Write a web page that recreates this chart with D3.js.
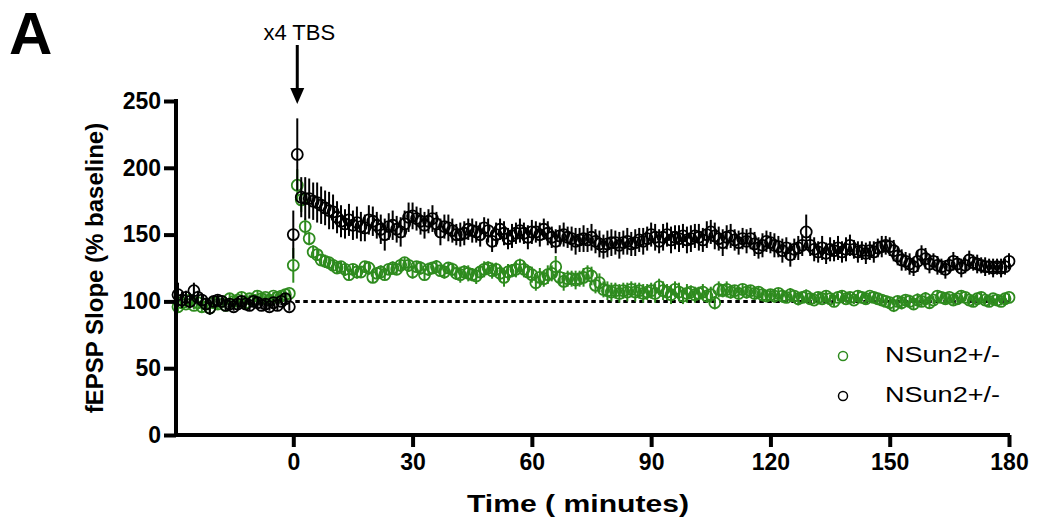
<!DOCTYPE html>
<html>
<head>
<meta charset="utf-8">
<script src="https://cdn.jsdelivr.net/npm/d3@7"></script>
<style>
  html, body { margin: 0; padding: 0; background: #fff; }
  svg { display: block; font-family: "Liberation Sans", Arial, sans-serif; }
</style>
</head>
<body>
<div id="chart"></div>
<script>
// ===== fEPSP slope after x4 TBS =====

// sampling grid: one point per minute, baseline -29..-1, then 0..180
const minutes = d3.range(-29, 181);
const xTicks = [0, 30, 60, 90, 120, 150, 180];
const yTicks = [0, 50, 100, 150, 200, 250];
const seriesNames = ['NSun2+/-', 'NSun2+/-'];

// green group (mean, % baseline)
const greenMean = [
  96, 99, 98, 101, 97, 99, 96, 98, 95, 99, 98, 100, 97, 102, 100, 101, 103, 99, 102, 101,
  104, 102, 103, 101, 104, 103, 104, 105, 106,
  127, 187, 176, 156, 147, 137, 135, 131, 130, 129,
  127, 125, 126, 124, 120, 124, 122, 122, 126, 125,
  118, 121, 122, 120, 124, 125, 124, 127, 129, 127,
  122, 126, 125, 120, 124, 125, 126, 123, 122, 125,
  124, 121, 120, 122, 121, 120, 119, 122, 124, 125,
  123, 124, 121, 118, 122, 123, 124, 127, 124, 122,
  120, 114, 118, 117, 120, 121, 126, 118, 115, 117,
  117, 116, 117, 118, 121, 119, 112, 114, 109, 108,
  107, 108, 106, 108, 107, 109, 107, 108, 106, 107,
  108, 106, 111, 108, 107, 105, 109, 107, 104, 106,
  107, 105, 106, 107, 104, 105, 99, 109, 108, 109,
  107, 108, 106, 109, 107, 108, 106, 107, 105, 104,
  105, 104, 106, 104, 103, 105, 104, 102, 103, 104,
  102, 101, 103, 102, 104, 102, 100, 103, 104, 102,
  103, 101, 104, 103, 102, 104, 103, 102, 101, 100,
  99, 97, 100, 99, 101, 100, 98, 101, 100, 102,
  99, 101, 104, 103, 102, 103, 101, 102, 104, 103,
  101, 100, 102, 103, 101, 100, 102, 101, 100, 102, 103
];
const greenSem = [
  4, 3, 3, 4, 3, 3, 4, 3, 3, 3, 4, 3, 3, 4, 3, 3, 4, 3, 3, 3,
  4, 3, 3, 4, 3, 3, 4, 3, 3,
  13, 12, 9, 6, 5, 5, 4, 4, 5, 4,
  4, 4, 4, 5, 4, 4, 5, 4, 4, 5,
  4, 4, 5, 4, 4, 5, 4, 5, 4, 5,
  5, 4, 5, 4, 5, 4, 5, 4, 5, 4,
  5, 5, 6, 5, 6, 5, 6, 5, 6, 5,
  6, 5, 6, 7, 6, 5, 6, 5, 6, 5,
  6, 6, 7, 6, 7, 6, 8, 6, 7, 6,
  6, 7, 6, 7, 6, 7, 6, 7, 6, 7,
  7, 6, 7, 6, 7, 6, 7, 6, 7, 6,
  6, 7, 6, 7, 6, 7, 6, 7, 6, 7,
  5, 6, 5, 6, 5, 6, 5, 6, 5, 6,
  5, 4, 5, 4, 5, 4, 5, 4, 5, 4,
  4, 5, 4, 5, 4, 5, 4, 5, 4, 5,
  4, 3, 4, 3, 4, 3, 4, 3, 4, 3,
  4, 3, 4, 3, 4, 3, 4, 3, 4, 3,
  4, 5, 4, 5, 4, 5, 4, 5, 4, 5,
  4, 3, 4, 3, 4, 3, 4, 3, 4, 3,
  3, 4, 3, 4, 3, 4, 3, 4, 3, 4, 3
];

// black group (mean, % baseline)
const blackMean = [
  105, 101, 103, 100, 108, 103, 101, 98, 95, 100, 101, 100, 97, 98, 96, 98, 100, 98, 97, 100,
  99, 97, 98, 96, 99, 97, 100, 102, 96,
  150, 210, 178, 177, 177, 175, 174, 172, 170, 168,
  167, 163, 160, 158, 161, 157, 159, 156, 155, 161,
  160, 157, 154, 150, 156, 157, 154, 152, 158, 163,
  164, 162, 160, 157, 160, 162, 158, 152, 156, 155,
  153, 150, 150, 151, 154, 153, 152, 150, 155, 153,
  145, 150, 154, 151, 147, 149, 151, 153, 151, 148,
  152, 152, 150, 154, 151, 148, 145, 149, 150, 148,
  147, 145, 146, 147, 146, 148, 145, 143, 141, 143,
  144, 144, 142, 144, 145, 143, 144, 146, 145, 147,
  150, 148, 145, 148, 150, 146, 148, 147, 149, 146,
  147, 149, 148, 146, 150, 152, 149, 147, 144, 148,
  149, 146, 144, 147, 145, 147, 143, 140, 142, 145,
  144, 142, 141, 138, 140, 135, 139, 140, 142, 152,
  142, 139, 137, 140, 136, 139, 138, 140, 137, 139,
  142, 139, 137, 138, 136, 138, 137, 140, 141, 142,
  141, 138, 134, 131, 130, 128, 126, 130, 135, 132,
  128, 130, 127, 126, 124, 127, 130, 128, 125, 127,
  131, 129, 128, 127, 126, 126, 125, 126, 125, 126, 130
];
const blackSem = [
  9, 6, 5, 5, 6, 5, 4, 4, 5, 4, 4, 3, 4, 4, 3, 4, 4, 3, 4, 3,
  4, 3, 4, 3, 3, 4, 3, 4, 3,
  18, 27, 15, 16, 15, 14, 15, 14, 13, 14,
  13, 12, 12, 11, 12, 11, 12, 11, 10, 11,
  11, 10, 11, 12, 10, 11, 10, 11, 10, 11,
  10, 9, 10, 10, 9, 10, 9, 10, 9, 10,
  9, 8, 9, 9, 8, 9, 8, 9, 8, 9,
  8, 9, 8, 9, 8, 9, 8, 9, 8, 9,
  9, 8, 9, 8, 9, 8, 9, 8, 9, 8,
  9, 10, 9, 10, 9, 10, 9, 10, 9, 10,
  10, 9, 10, 9, 10, 9, 10, 9, 10, 9,
  9, 10, 9, 10, 9, 10, 9, 10, 9, 10,
  10, 9, 10, 9, 10, 9, 10, 9, 10, 9,
  9, 8, 9, 8, 9, 8, 9, 8, 9, 8,
  8, 9, 8, 9, 8, 9, 8, 9, 8, 13,
  8, 9, 8, 9, 8, 9, 8, 9, 8, 9,
  8, 7, 8, 7, 8, 7, 8, 7, 8, 7,
  7, 8, 7, 8, 7, 8, 7, 8, 7, 8,
  7, 6, 7, 6, 7, 6, 7, 6, 7, 6,
  7, 6, 7, 6, 7, 6, 7, 6, 7, 6, 6
];

const tbsTime = 1;
const GREEN = '#2e8b1e';

const width = 1037;
const height = 527;

const svg = d3.select('#chart')
  .append('svg')
  .attr('width', width)
  .attr('height', height);

const x = d3.scaleLinear().domain([-29.5, 180]).range([176, 1009]);
const y = d3.scaleLinear().domain([0, 250]).range([435, 101]);

// build point tables
const toPoints = (mean, sem) => minutes.map((t, i) => ({ t, m: mean[i], e: sem[i] }));
const series = [
  { name: seriesNames[0], color: GREEN, pts: toPoints(greenMean, greenSem) },
  { name: seriesNames[1], color: '#000', pts: toPoints(blackMean, blackSem) }
];

// baseline reference line (100 %)
svg.append('line')
  .attr('x1', x(0) + 2).attr('x2', x(180))
  .attr('y1', y(100)).attr('y2', y(100))
  .attr('stroke', '#000')
  .attr('stroke-width', 3)
  .attr('stroke-dasharray', '4.5,3.5');

// series: error bars first, then open circles
series.forEach(s => {
  const g = svg.append('g');
  g.selectAll('line')
    .data(s.pts)
    .enter().append('line')
    .attr('x1', d => x(d.t)).attr('x2', d => x(d.t))
    .attr('y1', d => y(d.m - d.e)).attr('y2', d => y(d.m + d.e))
    .attr('stroke', s.color)
    .attr('stroke-width', 2);
  g.selectAll('circle')
    .data(s.pts)
    .enter().append('circle')
    .attr('cx', d => x(d.t))
    .attr('cy', d => y(d.m))
    .attr('r', 5.5)
    .attr('fill', 'none')
    .attr('stroke', s.color)
    .attr('stroke-width', 1.8);
});

// axes
const xAxis = svg.append('g')
  .attr('transform', `translate(0,${y(0)})`)
  .call(d3.axisBottom(x).tickValues(xTicks).tickSize(12).tickSizeOuter(0).tickPadding(7));
const yAxis = svg.append('g')
  .attr('transform', `translate(${x(-29.5)},0)`)
  .call(d3.axisLeft(y).tickValues(yTicks).tickSize(12).tickSizeOuter(0).tickPadding(3));

[xAxis, yAxis].forEach(a => {
  a.select('.domain').attr('stroke', '#000').attr('stroke-width', 4);
  a.selectAll('.tick line').attr('stroke', '#000').attr('stroke-width', 4);
  a.selectAll('.tick text')
    .attr('fill', '#000')
    .style('font-size', '23px')
    .style('font-weight', 'bold')
    .style('font-family', '"Liberation Sans", Arial, sans-serif');
});
// extend x domain under the y axis corner
xAxis.select('.domain').attr('d', `M${x(-29.5) - 2},0H${x(180) + 1}`);
yAxis.select('.domain').attr('d', `M0,${y(0) + 2}V${y(250) - 2}`);

// axis titles
svg.append('text')
  .attr('x', 578).attr('y', 512)
  .attr('text-anchor', 'middle')
  .style('font-size', '24px').style('font-weight', 'bold')
  .attr('textLength', 222).attr('lengthAdjust', 'spacingAndGlyphs')
  .text('Time ( minutes)');

svg.append('text')
  .attr('transform', `translate(103,${(y(0) + y(250)) / 2})rotate(-90)`)
  .attr('text-anchor', 'middle')
  .style('font-size', '24px').style('font-weight', 'bold')
  .text('fEPSP Slope (% baseline)');

// panel letter
svg.append('text')
  .attr('x', 9).attr('y', 54)
  .style('font-size', '60px').style('font-weight', 'bold')
  .text('A');

// TBS annotation with arrow
const ax = x(tbsTime);
svg.append('text')
  .attr('x', ax + 2).attr('y', 40)
  .attr('text-anchor', 'middle')
  .style('font-size', '22px')
  .text('x4 TBS');
svg.append('line')
  .attr('x1', ax).attr('x2', ax)
  .attr('y1', 45).attr('y2', 92)
  .attr('stroke', '#000').attr('stroke-width', 3);
svg.append('path')
  .attr('d', `M${ax - 7},88L${ax + 7},88L${ax},104Z`)
  .attr('fill', '#000');

// legend
const legend = svg.append('g');
series.forEach((s, i) => {
  const ly = 356 + i * 40;
  legend.append('circle')
    .attr('cx', 843).attr('cy', ly)
    .attr('r', 4.5)
    .attr('fill', 'none')
    .attr('stroke', s.color)
    .attr('stroke-width', 1.5);
  legend.append('text')
    .attr('x', 885).attr('y', ly + 6)
    .style('font-size', '22px')
    .attr('textLength', 115).attr('lengthAdjust', 'spacingAndGlyphs')
    .text(s.name);
});
</script>
</body>
</html>
